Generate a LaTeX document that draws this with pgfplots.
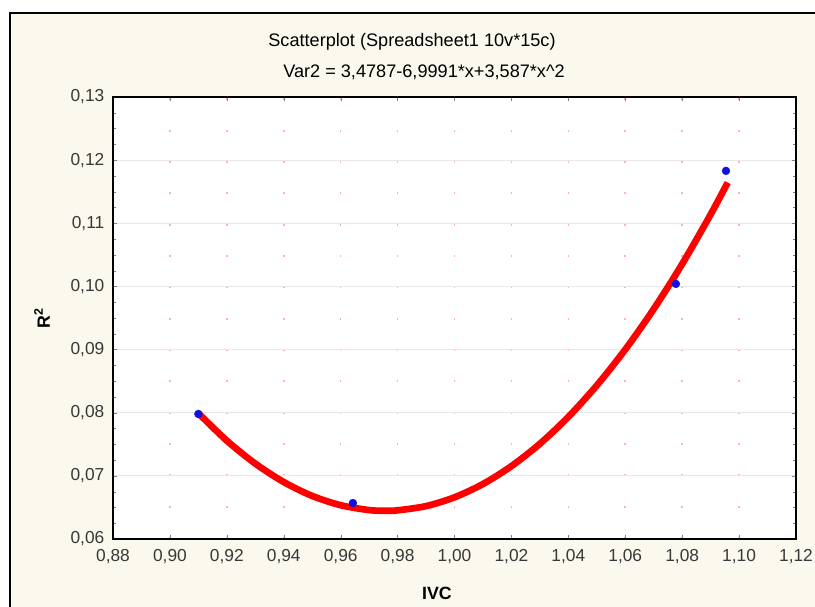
\documentclass[border=0pt]{standalone}
\usepackage{pgfplots}
\pgfplotsset{compat=1.18}
\usepackage{fontspec}
\setmainfont{Liberation Sans}
\definecolor{frame}{HTML}{FBF8EE}
\definecolor{fitred}{HTML}{FF0000}
\definecolor{ptblue}{HTML}{1010E0}
\begin{document}
\begin{tikzpicture}[x=0.75pt,y=0.75pt]
\useasboundingbox (0,0) rectangle (815,607);
\clip (0,0) rectangle (815,607);
\fill[white] (0,0) rectangle (815,607);
\filldraw[fill=frame, draw=black, line width=1.3pt] (10,-20) rectangle (840,594);

\begin{axis}[
    at={(84.75pt,51pt)}, anchor=south west,
    scale only axis,
    width=512.25pt, height=331.5pt,
    xmin=0.88, xmax=1.12,
    ymin=0.06, ymax=0.13,
    xtick={0.88,0.90,...,1.121},
    ytick={0.06,0.07,...,0.131},
    minor y tick num=3,
    tick align=inside,
    major tick length=3pt,
    minor tick length=2pt,
    axis line style={line width=1.3pt},
    axis background/.style={fill=white},
    grid=major,
    x grid style={draw=red!30, line width=1.2pt, dash pattern=on 1.5pt off 22pt},
    y grid style={draw=gray!18, line width=0.8pt},
    xticklabel style={/pgf/number format/.cd, use comma, fixed, fixed zerofill, precision=2},
    yticklabel style={/pgf/number format/.cd, use comma, fixed, fixed zerofill, precision=2},
    /pgf/number format/assume math mode=true,
    tick label style={font=\fontsize{13}{15}\selectfont, text=black!78},
    xticklabel shift=4pt,
    yticklabel shift=3pt,
    clip=false,
]
% fitted curve Var2 = 3,4787-6,9991*x+3,587*x^2, values read at each x
\addplot[fitred, line width=5pt, smooth] coordinates {
(0.910,0.07992) (0.920,0.07557) (0.930,0.07194) (0.940,0.06902)
(0.950,0.06682) (0.960,0.06535) (0.970,0.06458) (0.9756,0.06447)
(0.980,0.06454) (0.990,0.06521) (1.000,0.06660) (1.010,0.06871)
(1.020,0.07154) (1.030,0.07508) (1.040,0.07934) (1.050,0.08432)
(1.060,0.09001) (1.070,0.09642) (1.080,0.10355) (1.090,0.11140)
(1.096,0.11645)
};
\addplot[only marks, mark=*, mark size=2.9pt, ptblue] coordinates {
(0.9100,0.0798) (0.9643,0.0657) (1.0778,0.1004) (1.0954,0.1183)
};
\end{axis}

\node[font=\fontsize{13.6}{15}\selectfont] at (412,565) {Scatterplot (Spreadsheet1 10v*15c)};
\node[font=\fontsize{13.6}{15}\selectfont] at (424,535) {Var2 = 3,4787-6,9991*x+3,587*x\textasciicircum 2};
\node[font=\fontsize{13.3}{15}\selectfont\bfseries, rotate=90] at (42,289) {R\textsuperscript{2}};
\node[font=\fontsize{13.3}{15}\selectfont\bfseries] at (437,14) {IVC};
\end{tikzpicture}
\end{document}
